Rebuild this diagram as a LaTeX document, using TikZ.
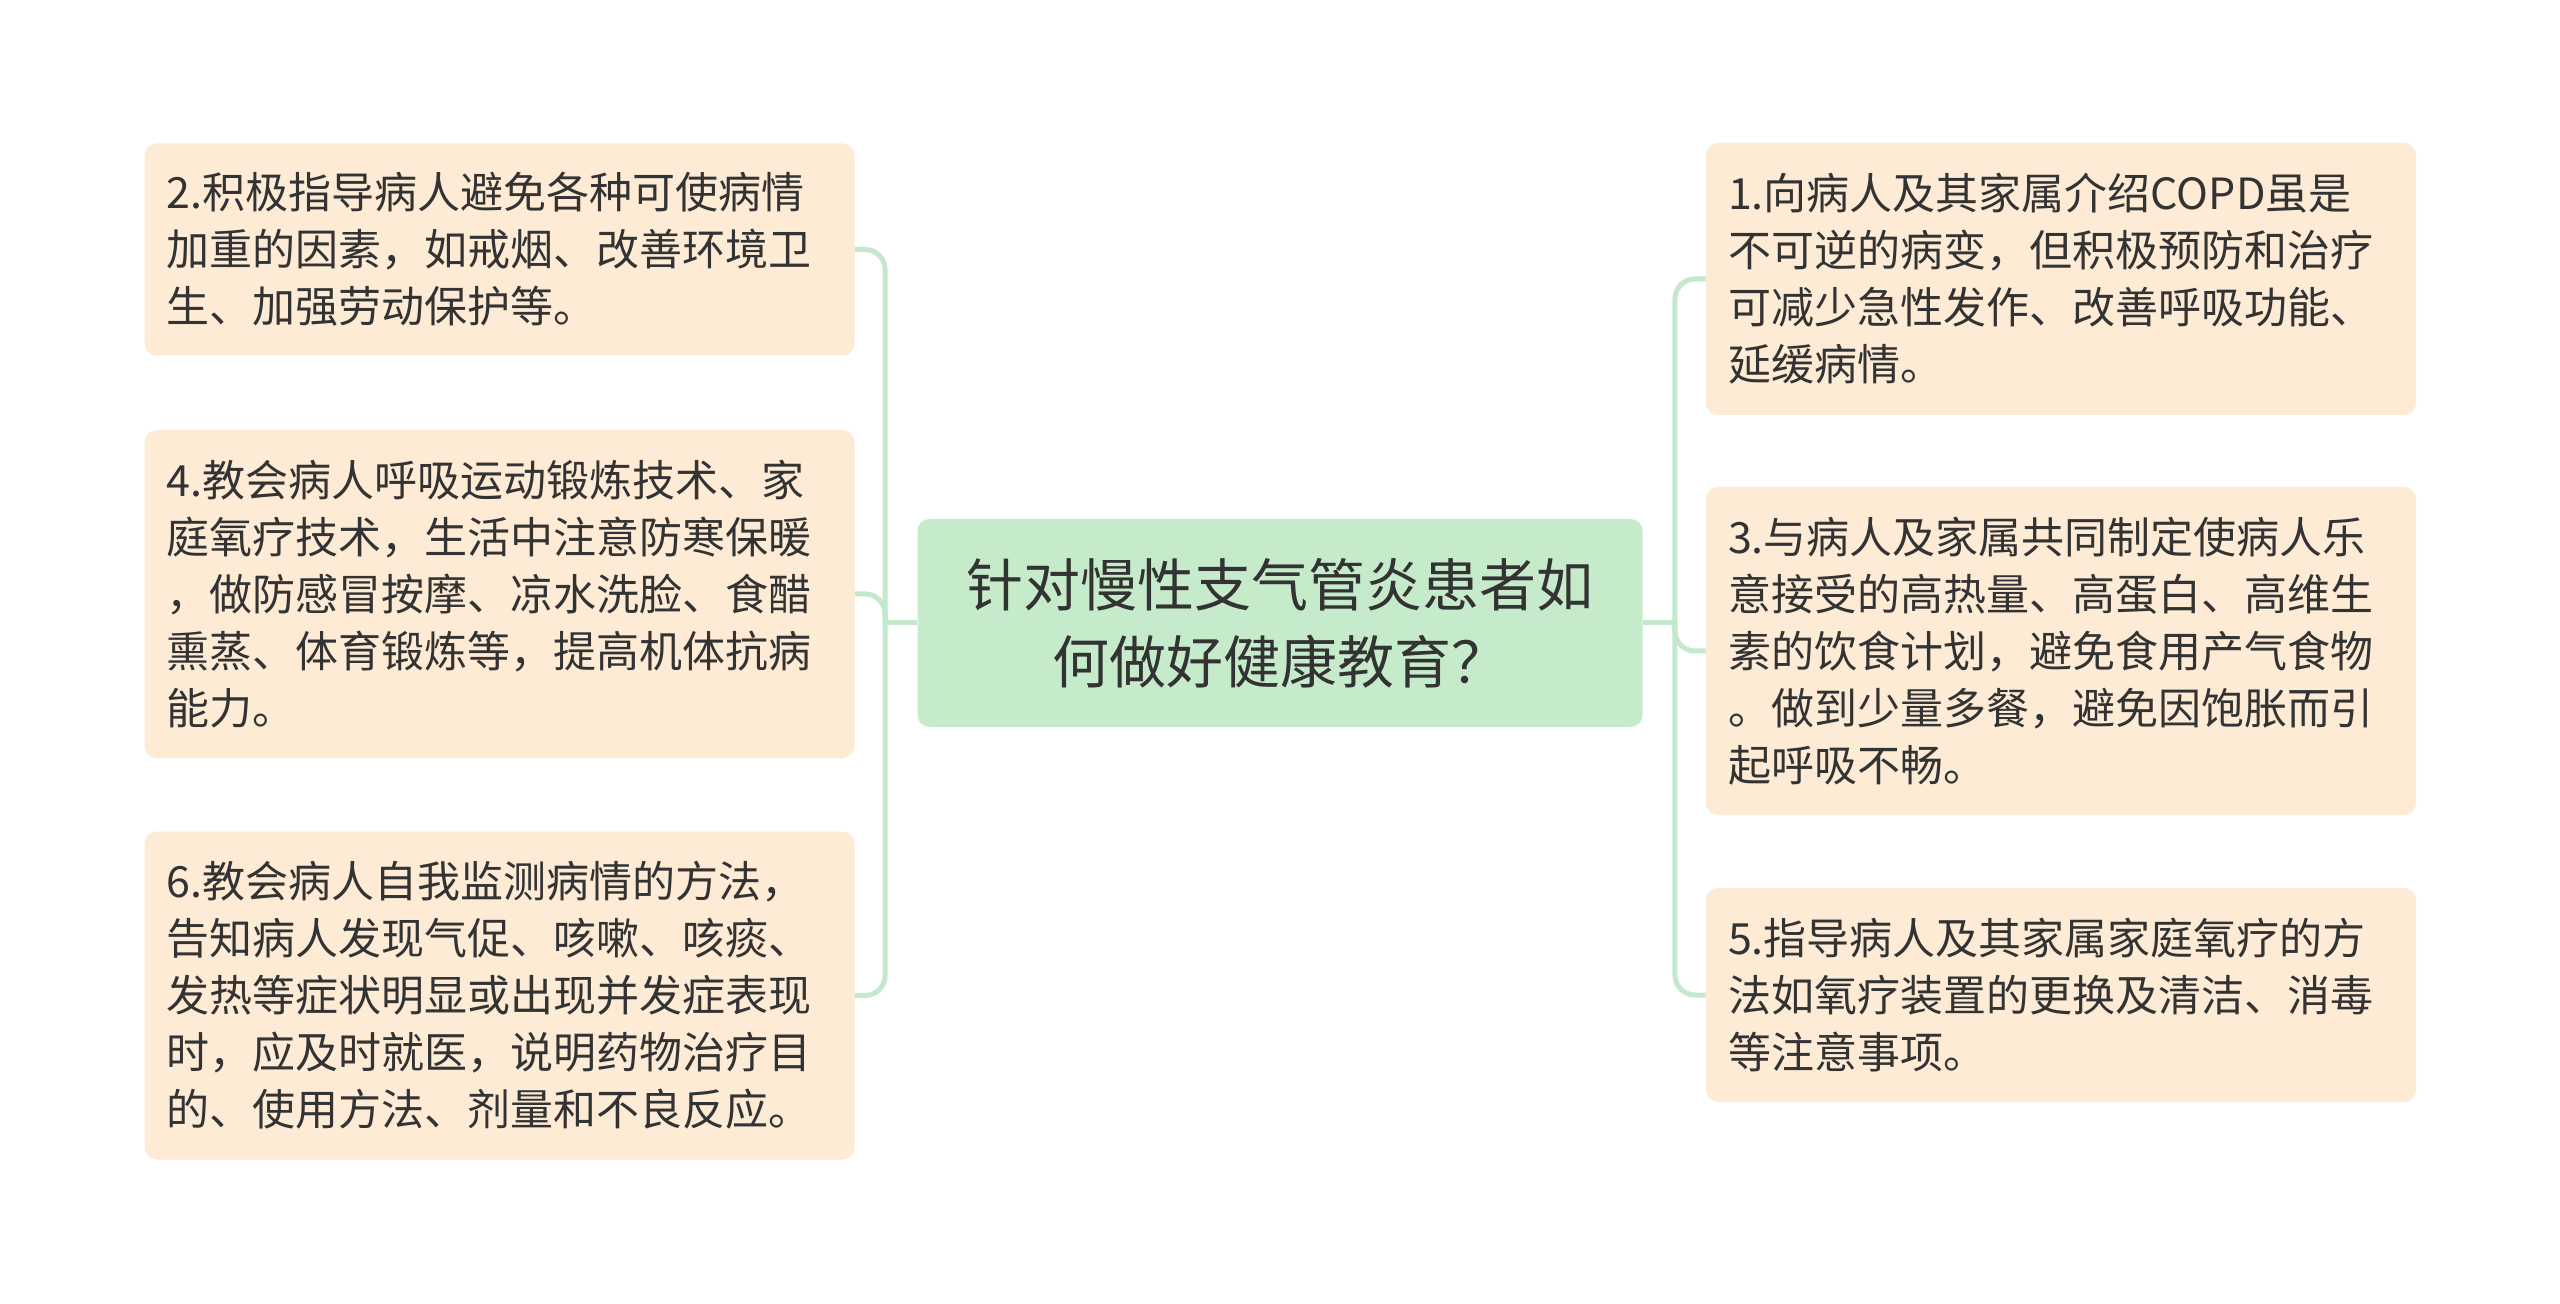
\documentclass[tikz,border=0pt]{standalone}
\usepackage{fontspec}
\setmainfont{Noto Sans CJK SC}
\definecolor{leafbg}{HTML}{FDEBD5}
\definecolor{rootbg}{HTML}{C6EBCB}
\definecolor{linkgreen}{HTML}{C3E8CB}
\definecolor{inktext}{HTML}{333333}
\tikzset{leaf/.style = {fill=leafbg, rounded corners=6pt, text width=333pt, align=left,
                        inner xsep=11pt, inner ysep=0pt, text=inktext,
                        font=\fontsize{21.5pt}{28.5pt}\selectfont},
         topic/.style = {fill=rootbg, rounded corners=6pt, align=center, minimum width=362.5pt,
                         minimum height=104pt, text=inktext,
                         font=\fontsize{28.5pt}{38.5pt}\selectfont},
         link/.style = {draw=linkgreen, line width=2.5pt, rounded corners=10pt}}

\begin{document}
\begin{tikzpicture}[x=0.5pt,y=-0.5pt]
  \fill[white] (0,0) rectangle (2560,1304);
  \useasboundingbox (0,0) rectangle (2560,1304);

  \node[topic] (root) at (1280,623) {针对慢性支气管炎患者如\\何做好健康教育？};

  % left side
  \node[leaf, minimum height=106pt] (b2) at (499.5,249.5) {2.积极指导病人避免各种可使病情\\加重的因素，如戒烟、改善环境卫\\生、加强劳动保护等。};
  \node[leaf, minimum height=164pt] (b4) at (499.5,594) {4.教会病人呼吸运动锻炼技术、家\\庭氧疗技术，生活中注意防寒保暖\\，做防感冒按摩、凉水洗脸、食醋\\熏蒸、体育锻炼等，提高机体抗病\\能力。};
  \node[leaf, minimum height=164pt] (b6) at (499.5,995.5) {6.教会病人自我监测病情的方法，\\告知病人发现气促、咳嗽、咳痰、\\发热等症状明显或出现并发症表现\\时，应及时就医，说明药物治疗目\\的、使用方法、剂量和不良反应。};

  % right side
  \node[leaf, minimum height=136pt] (b1) at (2061,279) {1.向病人及其家属介绍COPD虽是\\不可逆的病变，但积极预防和治疗\\可减少急性发作、改善呼吸功能、\\延缓病情。};
  \node[leaf, minimum height=164pt] (b3) at (2061,651) {3.与病人及家属共同制定使病人乐\\意接受的高热量、高蛋白、高维生\\素的饮食计划，避免食用产气食物\\。做到少量多餐，避免因饱胀而引\\起呼吸不畅。};
  \node[leaf, minimum height=107pt] (b5) at (2061,995) {5.指导病人及其家属家庭氧疗的方\\法如氧疗装置的更换及清洁、消毒\\等注意事项。};

  \draw[link] (root.west) -- ++(-32,0) coordinate (lj);
  \draw[link] (root.east) -- ++(32,0) coordinate (rj);
  \foreach \b in {b2,b4,b6}
    \draw[link] (lj) |- (\b.east);
  \foreach \b in {b1,b3,b5}
    \draw[link] (rj) |- (\b.west);
\end{tikzpicture}
\end{document}
